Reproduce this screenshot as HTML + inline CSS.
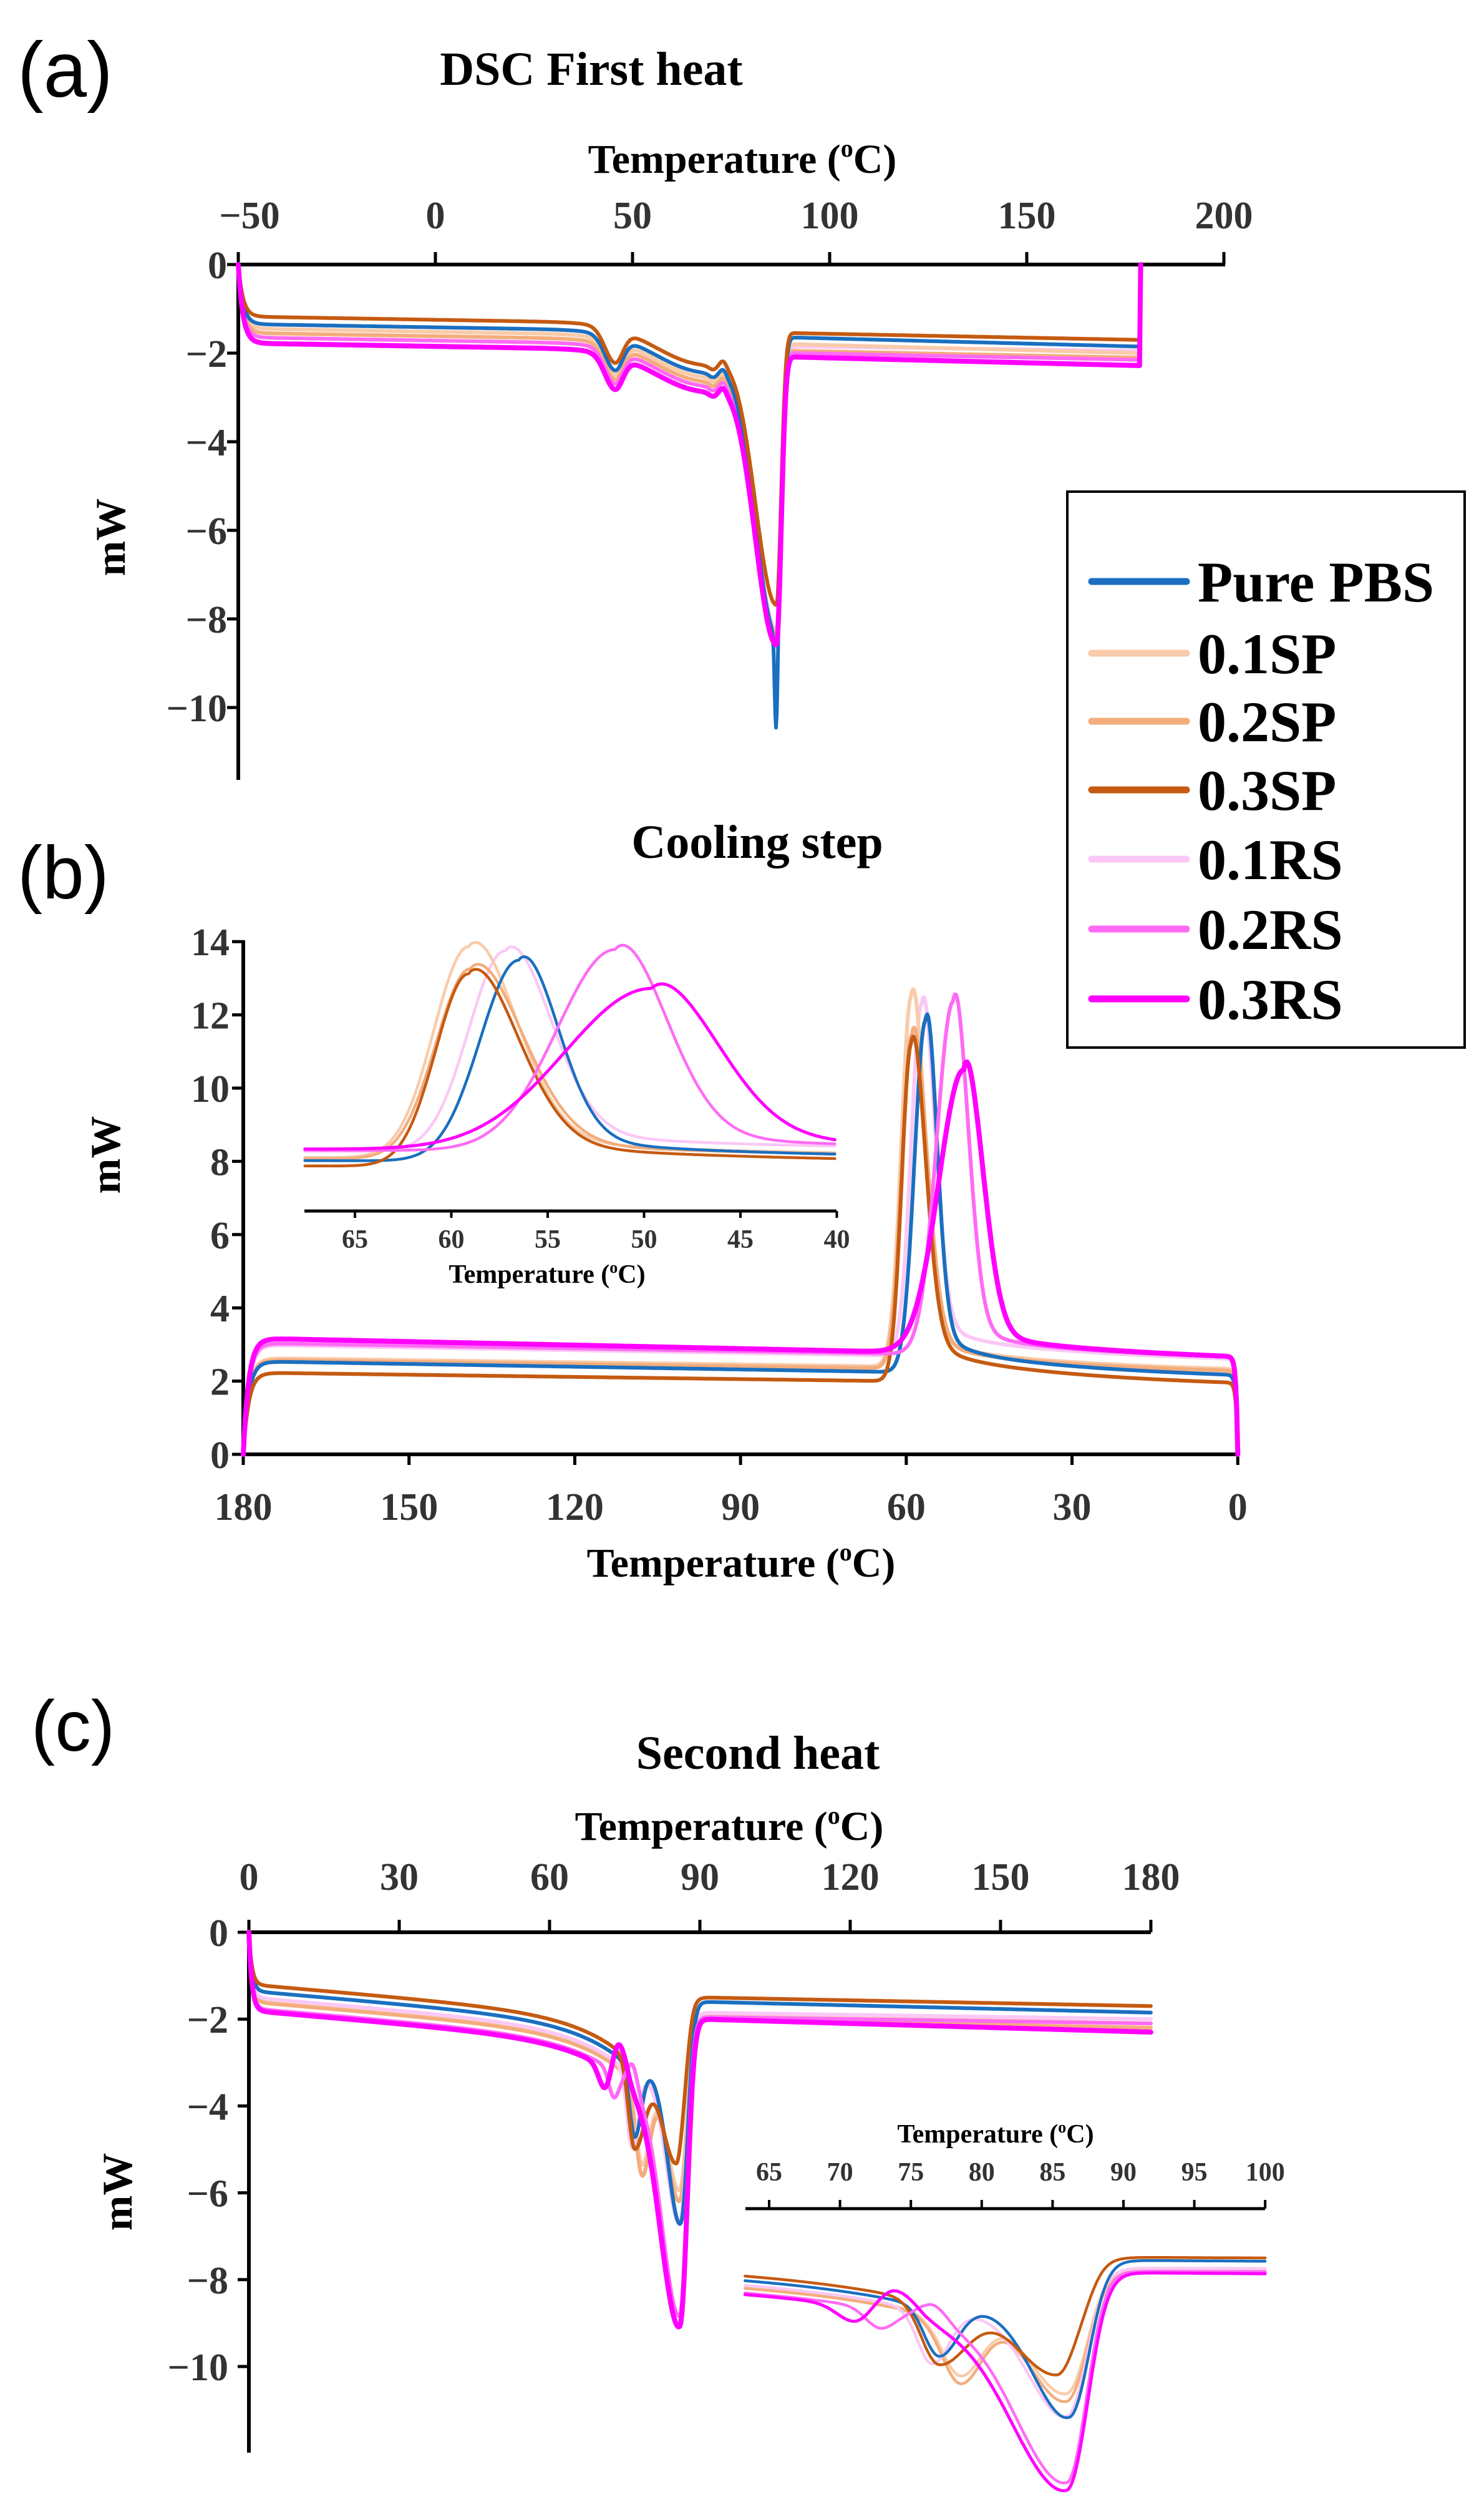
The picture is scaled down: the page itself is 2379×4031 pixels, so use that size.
<!DOCTYPE html>
<html><head><meta charset="utf-8"><style>html,body{margin:0;padding:0;background:#fff}svg{display:block}</style></head>
<body>
<svg id="s" xmlns="http://www.w3.org/2000/svg" width="2379" height="4031" viewBox="0 0 2379 4031" font-family="'Liberation Serif', serif" font-weight="bold">
<rect width="2379" height="4031" fill="#fff"/>
<g font-family="'Liberation Sans', sans-serif" font-weight="normal" fill="#000">
<text x="28" y="155" font-size="125">(a)</text>
<text x="28" y="1440" font-size="120">(b)</text>
<text x="50" y="2806" font-size="115">(c)</text>
</g>
<g text-anchor="middle" fill="#000">
<text x="948" y="136" font-size="76">DSC First heat</text>
<text x="1214" y="1375" font-size="76">Cooling step</text>
<text x="1215" y="2835" font-size="76">Second heat</text>
<text x="1190" y="277" font-size="66">Temperature (<tspan font-size="40" dy="-26">o</tspan><tspan dy="26">C)</tspan></text>
<text x="1188" y="2527" font-size="66">Temperature (<tspan font-size="40" dy="-26">o</tspan><tspan dy="26">C)</tspan></text>
<text x="1169" y="2949" font-size="66">Temperature (<tspan font-size="40" dy="-26">o</tspan><tspan dy="26">C)</tspan></text>
<text x="877" y="2056" font-size="42">Temperature (<tspan font-size="26" dy="-16">o</tspan><tspan dy="16">C)</tspan></text>
<text x="1596" y="3434" font-size="42">Temperature (<tspan font-size="26" dy="-16">o</tspan><tspan dy="16">C)</tspan></text>
<text transform="translate(200,861) rotate(-90)" font-size="68">mW</text>
<text transform="translate(192,1851) rotate(-90)" font-size="68">mW</text>
<text transform="translate(211,3513) rotate(-90)" font-size="68">mW</text>
</g>
<g id="ax" stroke="#000" stroke-width="6" fill="none"></g>
<g id="lbl" fill="#333" font-size="62"></g>
<g id="curves" fill="none" stroke-linejoin="round" stroke-linecap="round"></g>
<rect x="1711" y="788" width="637" height="891" fill="#fff" stroke="#000" stroke-width="4"/>
<g id="leg" font-size="92" fill="#000"></g>
</svg>
<script>
const NS="http://www.w3.org/2000/svg";
function el(p,t,a,txt){const e=document.createElementNS(NS,t);for(const k in a)e.setAttribute(k,a[k]);if(txt!==undefined)e.textContent=txt;document.getElementById(p).appendChild(e);return e;}
function line(x1,y1,x2,y2,w){el('ax','line',{x1,y1,x2,y2,'stroke-width':w||6});}
function txt(x,y,s,anchor,size){el('lbl','text',{x,y,'text-anchor':anchor||'middle','font-size':size||62},s);}
line(382,424,1964,424);line(382,421,382,1250);
[-50,0,50,100,150,200].forEach(t=>{const x=698+6.32*t;line(x,424,x,404,5);txt(t==-50?x+18:x,366,t<0?'\u2212'+(-t):''+t);});
[0,-2,-4,-6,-8,-10].forEach(v=>{const y=424-71*v;line(364,y,382,y,5);txt(364,y+22,v<0?'\u2212'+(-v):''+v,'end');});
line(390,2331,1987,2331);line(390,1507,390,2334);
[180,150,120,90,60,30,0].forEach(t=>{const x=390+(180-t)*8.857;line(x,2331,x,2348,5);txt(x,2436,''+t);});
[0,2,4,6,8,10,12,14].forEach(v=>{const y=2331-58.7*v;line(372,y,390,y,5);txt(368,y+22,''+v,'end');});
line(488,1941,1341,1941,5);
[65,60,55,50,45,40].forEach(t=>{const x=569+(65-t)*30.9;line(x,1941,x,1952,4);txt(x,2000,''+t,'middle',42);});
line(399,3097,1845,3097);line(399,3094,399,3931);
[0,30,60,90,120,150,180].forEach(t=>{const x=399+8.033*t;line(x,3097,x,3077,5);txt(x,3029,''+t);});
[0,-2,-4,-6,-8,-10].forEach(v=>{const y=3097-69.6*v;line(381,y,399,y,5);txt(366,y+22,v<0?'\u2212'+(-v):''+v,'end');});
line(1195,3540,2028,3540,5);
[65,70,75,80,85,90,95,100].forEach(t=>{const x=1233+(t-65)*22.72;line(x,3540,x,3526,4);txt(x,3495,''+t,'middle',42);});

const C={b:'#1a6fc0',sp1:'#f9cbaa',sp2:'#f3ad7c',sp3:'#c55a11',rs1:'#fbc8f6',rs2:'#ff6af5',rs3:'#ff00ff'};
function g(T,c,sLo,sHi){const d=T-c,s=d<0?sLo:sHi;return Math.exp(-d*d/(2*s*s));}
function sig(x){return 1/(1+Math.exp(-x));}
function path(pts,col,w){let d='';pts.forEach((p,i)=>{d+=(i?'L':'M')+p[0].toFixed(1)+' '+p[1].toFixed(1);});el('curves','path',{d,stroke:col,'stroke-width':w});}

const A=[
 {k:'rs1',off:-1.55,post:-1.85,end:-1.95,A:-6.5},
 {k:'sp1',off:-1.45,post:-1.8,end:-2.0,A:-6.6},
 {k:'sp2',off:-1.55,post:-1.95,end:-2.1,A:-6.6},
 {k:'rs2',off:-1.65,post:-2.0,end:-2.15,A:-6.6},
 {k:'b',off:-1.35,post:-1.65,end:-1.85,A:-6.8,spike:-2.1},
 {k:'sp3',off:-1.18,post:-1.55,end:-1.7,A:-6.3},
 {k:'rs3',off:-1.78,post:-2.09,end:-2.28,A:-6.6}];
function va(p,T){const tr=1-Math.exp(-(T+50)/1.2);const pre=p.off-0.0015*(T+45);const post=p.post+(p.end-p.post)*(T-92)/86;const w=sig((T-89.3)/0.5);
 let v=(1-w)*pre+w*post;v+=-0.75*g(T,45.5,2.5,2)+(-0.9)*g(T,68,12,6)*(1-w)-0.1*g(T,70.5,1,1)+0.12*g(T,73,0.8,0.8)+p.A*g(T,86.5,5.5,1.2);
 if(p.spike)v+=p.spike*g(T,86.4,0.35,0.35);return v*tr;}
A.forEach(p=>{const pts=[];for(let T=-50;T<=178.6;T+=0.2)pts.push([698+6.32*T,424-71*va(p,T)]);pts.push([698+6.32*178.9,424]);path(pts,C[p.k],p.k=='rs3'?8:6);});

const B=[
 {k:'rs1',off:2.7,s:0.0025,tail:0.6,c:57.2,h:12.3,sHi:1.9,sLo:2.3},
 {k:'sp1',off:2.4,s:0.002,tail:0.6,c:59.1,h:12.5,sHi:1.8,sLo:2.4},
 {k:'sp2',off:2.35,s:0.002,tail:0.6,c:59.0,h:11.45,sHi:1.8,sLo:2.6},
 {k:'b',off:2.25,s:0.0025,tail:0.7,c:56.5,h:11.85,sHi:2.0,sLo:2.0},
 {k:'sp3',off:2.0,s:0.002,tail:0.85,c:59.1,h:11.2,sHi:1.7,sLo:2.5},
 {k:'rs2',off:2.75,s:0.0025,tail:0.5,c:51.5,h:12.36,sHi:3.0,sLo:2.6},
 {k:'rs3',off:2.8,s:0.0032,tail:0.5,c:49.6,h:10.5,sHi:4.5,sLo:3.3}];
function vb(p,T){const base=o=>p.off+p.s*(o-63);let v=base(T);
 if(T<p.c)v+=p.tail*sig(((p.c-3)-T)/1.0)*Math.exp(-(p.c-T)/25);
 const Am=p.h-base(p.c);v+=Am*g(T,p.c,p.sLo,p.sHi);
 if(T<p.c)v+=Am*0.1*(1-Math.exp(-(p.c-T)/1))*Math.exp(-(p.c-T)/4);
 return v;}
B.forEach(p=>{const pts=[];for(let T=180;T>=0;T-=0.2){const f=(1-Math.exp(-(180-T)/1.0))*(1-Math.exp(-T/0.3));pts.push([390+(180-T)*8.857,2331-58.7*vb(p,T)*f]);}
 path(pts,C[p.k],p.k=='rs3'?8:6);
 const q=[];for(let T=67.6;T>=40;T-=0.1)q.push([569+(65-T)*30.9,1936-33.5*vb(p,T)]);path(q,C[p.k],p.k=='rs3'?5:4.5);});

const Cc=[
 {k:'sp1',off:-1.55,post:-1.9,end:-2.1,G:[[78.5,-2.0,1.3,1.5],[86,-2.6,2.5,1.3]]},
 {k:'sp2',off:-1.6,post:-2.0,end:-2.2,G:[[78.5,-2.2,1.3,1.5],[86,-2.8,2.5,1.3]]},
 {k:'rs1',off:-1.5,post:-1.85,end:-2.0,G:[[76.5,-1.7,1.0,1.2],[86,-3.4,2.6,1.3]]},
 {k:'b',off:-1.35,post:-1.6,end:-1.85,G:[[77,-1.6,1.0,1.3],[86.2,-3.6,2.5,1.3]]},
 {k:'sp3',off:-1.2,post:-1.5,end:-1.7,G:[[77,-2.0,1.2,2.0],[85.3,-2.3,2.8,1.3]]},
 {k:'rs2',off:-1.75,post:-1.95,end:-2.1,G:[[72.8,-0.6,1.0,1.0],[76.5,0.6,1.0,1.0],[86,-5.3,3.5,1.3]]},
 {k:'rs3',off:-1.8,post:-2.0,end:-2.3,G:[[71,-0.5,1.2,1.0],[74,0.8,1.2,1.5],[86,-5.5,3.8,1.4]]}];
function vc(p,T){const pre=p.off-0.01*T-0.9*Math.exp((Math.min(T,76)-75)/10);const post=p.post+(p.end-p.post)*(T-90)/90;const w=sig((T-87.8)/0.6);
 let v=(1-w)*pre+w*post;p.G.forEach(q=>{v+=q[1]*g(T,q[0],q[2],q[3]);});return v;}
Cc.forEach(p=>{const pts=[];for(let T=0;T<=180;T+=0.2){pts.push([399+8.033*T,3097-69.6*vc(p,T)*(1-Math.exp(-T/0.6))]);}
 path(pts,C[p.k],p.k=='rs3'?8:6);
 const q=[];for(let T=63.3;T<=100;T+=0.1)q.push([1233+(T-65)*22.72,3544-49.3*vc(p,T)]);path(q,C[p.k],p.k=='rs3'?5:4.5);});

const L=[['b','Pure PBS',932],['sp1','0.1SP',1047],['sp2','0.2SP',1156],['sp3','0.3SP',1266],['rs1','0.1RS',1377],['rs2','0.2RS',1489],['rs3','0.3RS',1601]];
L.forEach(l=>{el('leg','line',{x1:1750,y1:l[2],x2:1902,y2:l[2],stroke:C[l[0]],'stroke-width':11,'stroke-linecap':'round'});el('leg','text',{x:1920,y:l[2]+32},l[1]);});
</script>
</body></html>
